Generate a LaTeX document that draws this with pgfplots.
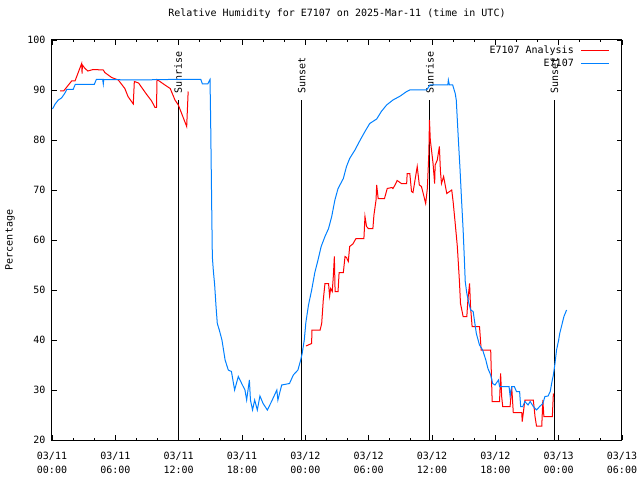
\documentclass[border=0pt]{standalone}
\usepackage{fontspec}
\setmainfont{DejaVu Sans Mono}
\usepackage{pgfplots}
\pgfplotsset{compat=1.18}
\definecolor{obsblue}{RGB}{0,128,255}
\definecolor{anared}{RGB}{255,0,0}
\begin{document}
\fontsize{10}{12}\selectfont
\begin{tikzpicture}
\useasboundingbox (-52pt,-40pt) rectangle (588pt,440pt);
\begin{axis}[
 at={(0pt,0pt)}, anchor=south west,
 scale only axis, width=570pt, height=400pt,
 xmin=0, xmax=54, ymin=20, ymax=100,
 unbounded coords=jump,
 xtick={0,6,...,54},
 xticklabels={{03/11\\00:00},{03/11\\06:00},{03/11\\12:00},{03/11\\18:00},{03/12\\00:00},{03/12\\06:00},{03/12\\12:00},{03/12\\18:00},{03/13\\00:00},{03/13\\06:00}},
 minor x tick num=2,
 ytick={20,30,...,100},
 xticklabel style={align=center, font=\fontsize{10}{14}\selectfont, yshift=-9pt},
 yticklabel style={font=\fontsize{10}{12}\selectfont, xshift=-3pt},
 /pgf/number format/assume math mode=true,
 axis line style={line width=1pt},
 every tick/.style={black, line width=0.8pt},
 major tick length=5pt, minor tick length=2.5pt,
 title={Relative Humidity for E7107 on 2025-Mar-11 (time in UTC)},
 title style={at={(0.5,1)}, anchor=base, yshift=17pt, font=\fontsize{10}{12}\selectfont},
 ylabel={Percentage},
 ylabel style={at={(axis description cs:-0.0737,0.5)}, anchor=center, font=\fontsize{10}{12}\selectfont},
 legend plot pos=right, legend cell align=right,
 legend image code/.code={\draw[line width=1pt] (0pt,0pt) -- (28pt,0pt);},
 legend style={at={(axis description cs:1,1)}, anchor=north east, xshift=-12pt, yshift=-5pt,
   draw=none, fill=none, inner sep=0pt, row sep=2pt, column sep=6pt,
   nodes={inner sep=1pt}, font=\fontsize{10}{12}\selectfont},
]
% sunrise / sunset lines
\addplot[black, line width=1pt, forget plot] coordinates {(11.95,20) (11.95,88)};
\addplot[black, line width=1pt, forget plot] coordinates {(23.65,20) (23.65,88)};
\addplot[black, line width=1pt, forget plot] coordinates {(35.8,20) (35.8,88)};
\addplot[black, line width=1pt, forget plot] coordinates {(47.6,20) (47.6,88)};
\node[rotate=90, anchor=west, inner sep=0pt] at (axis cs:11.95,89.3) {Sunrise};
\node[rotate=90, anchor=west, inner sep=0pt] at (axis cs:23.65,89.3) {Sunset};
\node[rotate=90, anchor=west, inner sep=0pt] at (axis cs:35.8,89.3) {Sunrise};
\node[rotate=90, anchor=west, inner sep=0pt] at (axis cs:47.6,89.3) {Sunset};
% analysis (red)
\addplot[color=anared, line width=1pt] coordinates {
(0.76,89.8)(1.1,89.8)(1.86,91.8)(2.18,91.8)(2.81,95.3)(2.85,93.3)(2.88,95.0)(3.13,94.3)(3.4,93.8)(3.9,94.1)(4.86,94.0)(5.0,93.5)(5.65,92.5)(6.28,92)(6.9,90.3)(7.2,88.7)(7.7,87.2)(7.8,91.7)(8.2,91.4)(8.97,89.1)(9.44,87.8)(9.76,86.5)(9.9,86.5)(9.95,92.1)(10.7,91)(11.2,90.3)(11.65,88)(11.97,87)(12.76,82.7)(12.9,89.7)
(18,nan)
(24.06,38.8)(24.6,39.3)(24.62,42)(25.4,42)(25.55,43.3)(25.7,48)(25.86,51.3)(26.2,51.3)(26.3,48.8)(26.4,50.3)(26.55,49.7)(26.65,52.7)(26.75,56.7)(26.82,49.7)(27.1,49.7)(27.2,53.5)(27.6,53.5)(27.76,56.7)(27.9,56.5)(28.07,55.7)(28.2,58.7)(28.5,59.2)(28.8,60.3)(29.55,60.3)(29.65,64.7)(29.8,62.7)(29.97,62.3)(30.4,62.3)(30.5,65)(30.7,68)(30.76,71)(30.9,68.3)(31.5,68.3)(31.76,70.3)(32.2,70.5)(32.3,70.3)(32.5,71)(32.7,71.9)(33.1,71.3)(33.6,71.3)(33.65,73.3)(33.9,73.3)(34.06,69.7)(34.2,69.5)(34.6,74.7)(34.8,71)(35.0,70.7)(35.24,68.7)(35.4,67.3)(35.56,70.3)(35.7,77.3)(35.76,84)(35.84,80)(35.97,77.7)(36.1,75.3)(36.25,71.3)(36.3,75)(36.5,76)(36.7,78.7)(36.8,73.7)(36.9,71.3)(37.1,72.7)(37.4,69.3)(37.87,70)(38.0,67.7)(38.2,63.3)(38.4,58.7)(38.6,51.7)(38.7,47.3)(38.95,44.7)(39.3,44.7)(39.4,48)(39.56,51.3)(39.65,46.7)(39.8,42.7)(40.5,42.7)(40.66,38)(41.56,38)(41.7,27.7)(42.4,27.7)(42.5,33.3)(42.6,28.7)(42.7,26.7)(43.4,26.7)(43.55,30.7)(43.7,25.5)(44.5,25.5)(44.55,23.7)(44.8,28)(45.6,28)(45.76,24.7)(45.9,22.8)(46.4,22.8)(46.5,28)(46.6,24.7)(47.4,24.7)(47.5,29.3)
};
\addlegendentry{E7107 Analysis}
% observations (blue)
\addplot[color=obsblue, line width=1pt] coordinates {
(0.05,86.2)(0.3,87.2)(0.6,88)(0.9,88.4)(1.2,89.3)(1.4,90.1)(2.0,90.1)(2.2,91.1)(4.0,91.1)(4.2,92.1)(4.8,92.1)(4.86,91.2)(4.9,92.1)(8,92.0)(11,92.1)(14.1,92.1)(14.25,91.2)(14.75,91.2)(14.97,92.1)(15.03,84)(15.13,66.7)(15.19,56.7)(15.28,54)(15.41,51)(15.54,46.7)(15.66,43.3)(15.85,42)(16.1,40)(16.4,36)(16.7,34)(17.0,33.7)(17.3,30)(17.65,32.7)(17.97,31.3)(18.28,30)(18.44,28)(18.7,32)(18.8,28)(19.0,26)(19.2,28)(19.45,26)(19.7,28.8)(20.0,27.3)(20.4,26)(20.8,27.7)(21.3,30)(21.4,28)(21.76,31)(22.5,31.3)(22.86,33)(23.3,34)(23.56,36)(23.7,37.3)(23.9,40)(24.05,43.5)(24.3,47)(24.6,50)(24.9,53.5)(25.2,56)(25.5,58.7)(25.86,60.7)(26.2,62.3)(26.5,64.7)(26.8,68)(27.1,70.3)(27.6,72.3)(27.9,74.7)(28.2,76.3)(28.7,78)(29.2,80)(29.65,81.7)(30.1,83.3)(30.76,84.2)(31.2,85.7)(31.7,87)(32.3,88)(33.0,88.8)(33.6,89.7)(33.9,90)(35.5,90)(35.8,91)(37.5,91)(37.55,92)(37.65,91)(37.96,91)(38.2,89.3)(38.3,88)(38.5,80)(38.66,74)(38.8,68)(38.95,62)(39.05,57)(39.15,51.7)(39.3,49.3)(39.5,47.3)(39.66,46)(39.9,45.7)(40.2,41.3)(40.5,39)(40.8,38)(41.1,36)(41.3,34.3)(41.56,33)(41.75,31.3)(41.97,31)(42.3,32)(42.4,30.7)(43.3,30.7)(43.4,28.8)(43.55,30.7)(43.8,30.7)(44.0,29.7)(44.3,29.7)(44.4,26.7)(44.6,26.7)(44.8,27.7)(45.1,27)(45.3,27.7)(45.6,26.7)(45.9,26)(46.2,26.7)(46.5,27.3)(46.7,28.7)(47.0,28.8)(47.2,29.7)(47.37,31.7)(47.5,33)(47.65,35.3)(47.8,38)(48.0,40)(48.1,41.3)(48.3,43)(48.5,44.7)(48.75,46)
};
\addlegendentry{E7107}
\end{axis}
\end{tikzpicture}
\end{document}
